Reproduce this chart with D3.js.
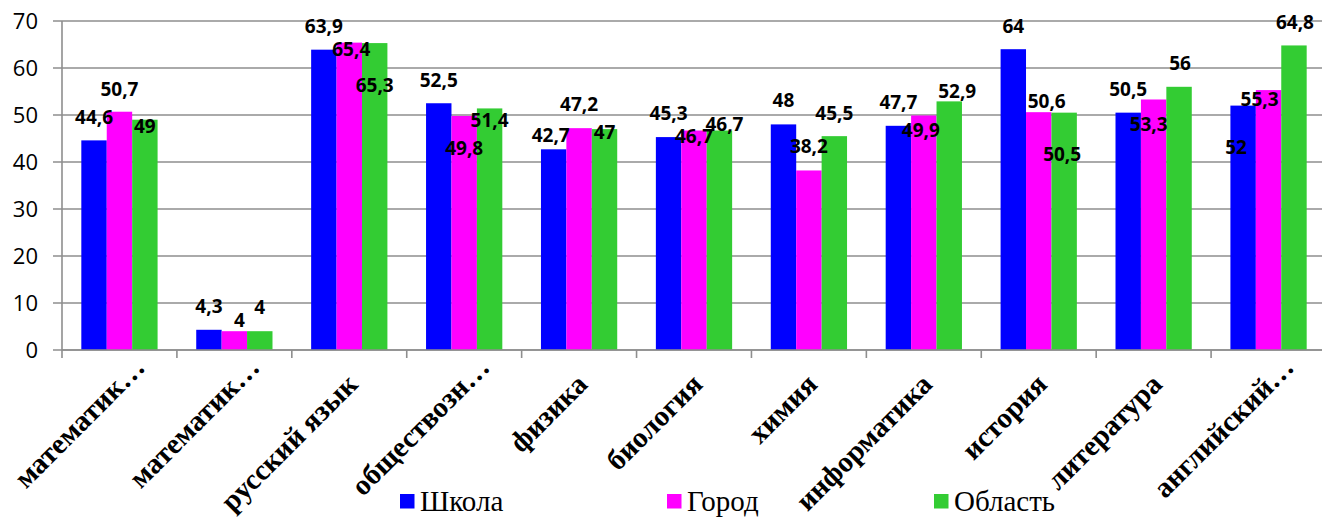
<!DOCTYPE html>
<html><head><meta charset="utf-8">
<script src="https://cdn.jsdelivr.net/npm/d3@7"></script>
<style>
html,body{margin:0;padding:0;background:#fff;}
svg{display:block;}
.serif{font-family:"Liberation Serif","Times New Roman",serif;}
.sans{font-family:"Open Sans","Liberation Sans",sans-serif;}
</style></head>
<body>
<svg id="chart" width="1322" height="517"></svg>
<script>
const categories = ["математик…","математик…","русский язык","обществозн…","физика","биология","химия","информатика","история","литература","английский…"];
const seriesNames = ["Школа","Город","Область"];
const school = [44.6, 4.3, 63.9, 52.5, 42.7, 45.3, 48, 47.7, 64, 50.5, 52];
const city   = [50.7, 4, 65.4, 49.8, 47.2, 46.7, 38.2, 49.9, 50.6, 53.3, 55.3];
const region = [49, 4, 65.3, 51.4, 47, 46.7, 45.5, 52.9, 50.5, 56, 64.8];
const yTicks = [0,10,20,30,40,50,60,70];
const colors = ["#0000ff","#ff00ff","#33cc33"];
// label nudges [dx, dy] relative to bar centre/top (layout only)
const labelNudge = [
  [[0,-23],[0,-24],[0,-24],[0,-23],[-3,-14],[0,-24],[0,-24],[0,-24],[0,-23],[0,-23],[-7,42]],
  [[0,-23],[5,-11],[2,7],[0,32],[0,-24],[0,6],[0,-24],[-3,15],[8,-11.5],[-5,24.5],[-9,9]],
  [[0,6],[0,-24],[0,42],[0,12],[0,3],[5,-6.5],[0,-23],[8,-10],[-2,42],[1,-24],[1,-23]]
];
const seriesValues = [school, city, region];

const svg = d3.select("#chart");
const x0 = d3.scaleBand().domain(d3.range(categories.length)).range([62, 1326]).paddingInner(0).paddingOuter(0);
const x1 = d3.scaleBand().domain(d3.range(seriesNames.length)).range([0, x0.bandwidth()]).paddingInner(0).paddingOuter(0.76);
const y = d3.scaleLinear().domain([0,70]).range([350, 21]);

// gridlines
svg.append("g").selectAll("line").data(yTicks).join("line")
  .attr("x1", 53).attr("x2", 1322)
  .attr("y1", d => y(d)).attr("y2", d => y(d))
  .attr("stroke", "#8e8e8e").attr("stroke-width", 1.6);

// y axis line
svg.append("line").attr("x1", 62).attr("x2", 62).attr("y1", y(70)).attr("y2", y(0))
  .attr("stroke", "#8e8e8e").attr("stroke-width", 1.6);

// y tick labels
svg.append("g").selectAll("text").data(yTicks).join("text")
  .attr("class", "sans")
  .attr("x", 38).attr("y", d => y(d)).attr("dy", "0.36em")
  .attr("text-anchor", "end")
  .attr("font-size", 22).attr("fill", "#000")
  .text(d => d);

// x tick marks
svg.append("g").selectAll("line").data(d3.range(categories.length + 1)).join("line")
  .attr("x1", i => i < categories.length ? x0(i) : x0(i-1) + x0.bandwidth())
  .attr("x2", i => i < categories.length ? x0(i) : x0(i-1) + x0.bandwidth())
  .attr("y1", 350).attr("y2", 358)
  .attr("stroke", "#8e8e8e").attr("stroke-width", 1.6);

// bars
const groups = svg.append("g").selectAll("g").data(categories).join("g")
  .attr("transform", (d,i) => `translate(${x0(i)},0)`);
groups.selectAll("rect").data((d,i) => seriesValues.map((s,k) => ({k, v: s[i]}))).join("rect")
  .attr("x", d => x1(d.k)).attr("width", x1.bandwidth())
  .attr("y", d => y(d.v)).attr("height", d => y(0) - y(d.v))
  .attr("fill", d => colors[d.k]);

// x axis baseline (on top of bars)
svg.append("line").attr("x1", 62).attr("x2", 1322).attr("y1", 350).attr("y2", 350)
  .attr("stroke", "#8e8e8e").attr("stroke-width", 1.6);

// data labels
const lab = svg.append("g");
seriesValues.forEach((s, k) => {
  lab.selectAll(null).data(s).join("text")
    .attr("class", "sans")
    .attr("x", (v,i) => x0(i) + x1(k) + x1.bandwidth()/2 + labelNudge[k][i][0])
    .attr("y", (v,i) => y(v) + labelNudge[k][i][1])
    .attr("dy", "0.36em")
    .attr("text-anchor", "middle")
    .attr("font-weight", "bold").attr("font-size", 19).attr("fill", "#000")
    .text(v => String(v).replace(".", ","));
});

// category labels
svg.append("g").selectAll("text").data(categories).join("text")
  .attr("class", "serif")
  .attr("transform", (d,i) => `translate(${x0(i) + x0.bandwidth()/2 + 10},386) rotate(-45)`)
  .attr("dx", d => d.endsWith("…") ? 24 : 0)
  .attr("text-anchor", "end")
  .attr("font-weight", "bold").attr("font-size", 29).attr("fill", "#000")
  .text(d => d);

// legend
const leg = svg.append("g").selectAll("g").data(seriesNames).join("g")
  .attr("transform", (d,i) => `translate(${400 + i*267},494)`);
leg.append("rect").attr("width", 14.5).attr("height", 14.5).attr("fill", (d,i) => colors[i]);
leg.append("text").attr("class", "serif").attr("x", 20).attr("y", 16.5)
  .attr("font-size", 29).attr("fill", "#000")
  .text(d => d);
</script>
</body></html>
